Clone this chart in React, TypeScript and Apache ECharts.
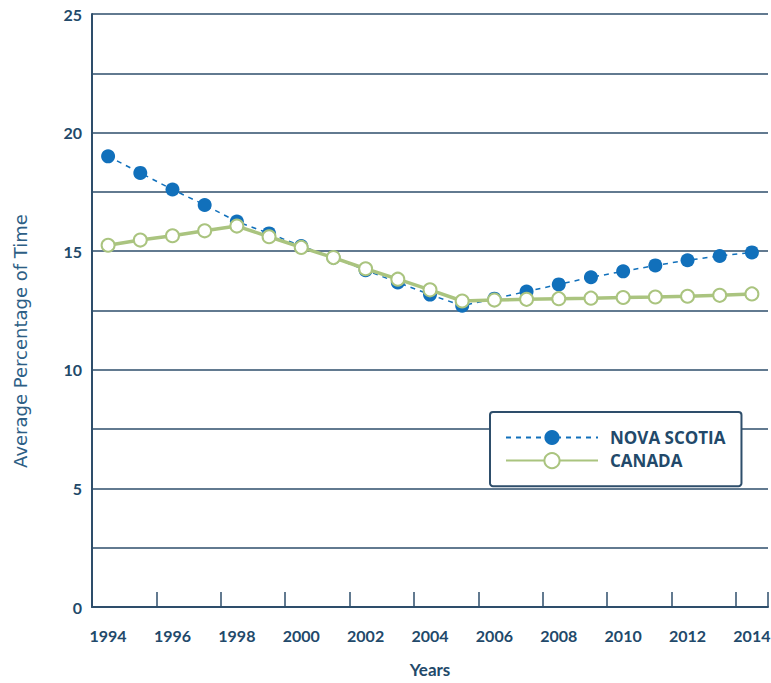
import React, { useEffect, useRef } from "react";
import * as echarts from "echarts";

const years = [
  "1994", "1995", "1996", "1997", "1998", "1999", "2000", "2001", "2002", "2003", "2004",
  "2005", "2006", "2007", "2008", "2009", "2010", "2011", "2012", "2013", "2014",
];
const novaScotia = [
  19.0, 18.3, 17.6, 16.95, 16.25, 15.75, 15.22, 14.73, 14.2, 13.68, 13.17,
  12.7, 13.0, 13.3, 13.6, 13.9, 14.15, 14.4, 14.62, 14.8, 14.95,
];
const canada = [
  15.25, 15.47, 15.65, 15.86, 16.06, 15.61, 15.16, 14.73, 14.26, 13.82, 13.37,
  12.9, 12.94, 12.97, 13.0, 13.02, 13.05, 13.07, 13.1, 13.14, 13.2,
];
const yAxisTitle = "Average Percentage of Time";
const xAxisTitle = "Years";

const TEXT = "#22496A";
const LINE = "#2E4E6B";
const NS_COLOR = "#1170BB";
const CA_COLOR = "#AAC47F";
const FONT = "Lato, 'Open Sans', sans-serif";
const WIDE = "'Open Sans', Lato, sans-serif";

export default function App() {
  const ref = useRef<HTMLDivElement>(null);
  useEffect(() => {
    if (!ref.current) return;
    const chart = echarts.init(ref.current, undefined, { renderer: "svg" });
    chart.setOption({
      animation: false,
      backgroundColor: "#ffffff",
      textStyle: { fontFamily: FONT },
      grid: {
        left: 92,
        right: 3,
        top: 14,
        bottom: 76,
        containLabel: false,
        outerBoundsMode: "none",
      },
      graphic: [
        {
          type: "text",
          x: 20,
          y: 341,
          rotation: Math.PI / 2,
          style: {
            text: yAxisTitle,
            fill: "#2D5E85",
            font: "18px 'DejaVu Sans', sans-serif",
            align: "center",
            verticalAlign: "middle",
          },
        },
      ],
      legend: {
        orient: "vertical",
        left: 490,
        top: 412,
        padding: [17, 16, 17, 15],
        itemGap: 6,
        itemWidth: 92,
        itemHeight: 19,
        backgroundColor: "#ffffff",
        borderColor: LINE,
        borderWidth: 2,
        borderRadius: 3,
        textStyle: {
          color: TEXT,
          fontSize: 17,
          fontWeight: "bold",
          fontFamily: WIDE,
          padding: [0, 0, 0, 7],
        },
        data: ["NOVA SCOTIA", "CANADA"],
      },
      xAxis: {
        type: "category",
        data: years,
        boundaryGap: true,
        name: xAxisTitle,
        nameLocation: "middle",
        nameGap: 54,
        nameTextStyle: { color: TEXT, fontSize: 17, fontWeight: "bold", fontFamily: FONT },
        axisLine: { show: true, lineStyle: { color: LINE, width: 2 } },
        axisTick: { show: true, inside: true, length: 15, lineStyle: { color: LINE, width: 1.5 } },
        axisLabel: {
          interval: 1,
          color: TEXT,
          fontSize: 16,
          fontWeight: "bold",
          margin: 20,
          fontFamily: FONT,
        },
        splitLine: { show: false },
      },
      yAxis: {
        type: "value",
        min: 0,
        max: 25,
        interval: 2.5,
        axisLine: { show: true, lineStyle: { color: LINE, width: 2 } },
        axisTick: { show: false },
        axisLabel: {
          color: TEXT,
          fontSize: 16,
          fontWeight: "bold",
          margin: 10,
          fontFamily: FONT,
          formatter: (v: number) => (v % 5 === 0 ? String(v) : ""),
        },
        splitLine: { show: true, lineStyle: { color: LINE, width: 1.5 } },
      },
      series: [
        {
          name: "NOVA SCOTIA",
          type: "line",
          data: novaScotia,
          symbol: "circle",
          symbolSize: 14,
          itemStyle: { color: NS_COLOR, borderColor: NS_COLOR, borderWidth: 0 },
          lineStyle: { color: NS_COLOR, width: 1.5, type: [5, 5] },
          z: 2,
        },
        {
          name: "CANADA",
          type: "line",
          data: canada,
          symbol: "circle",
          symbolSize: 13,
          itemStyle: { color: "#ffffff", borderColor: CA_COLOR, borderWidth: 2 },
          lineStyle: { color: CA_COLOR, width: 3.5 },
          z: 3,
        },
      ],
    });
    return () => chart.dispose();
  }, []);
  return (
    <div
      ref={ref}
      style={{ position: "absolute", left: 0, top: 0, width: 771, height: 683 }}
    />
  );
}
